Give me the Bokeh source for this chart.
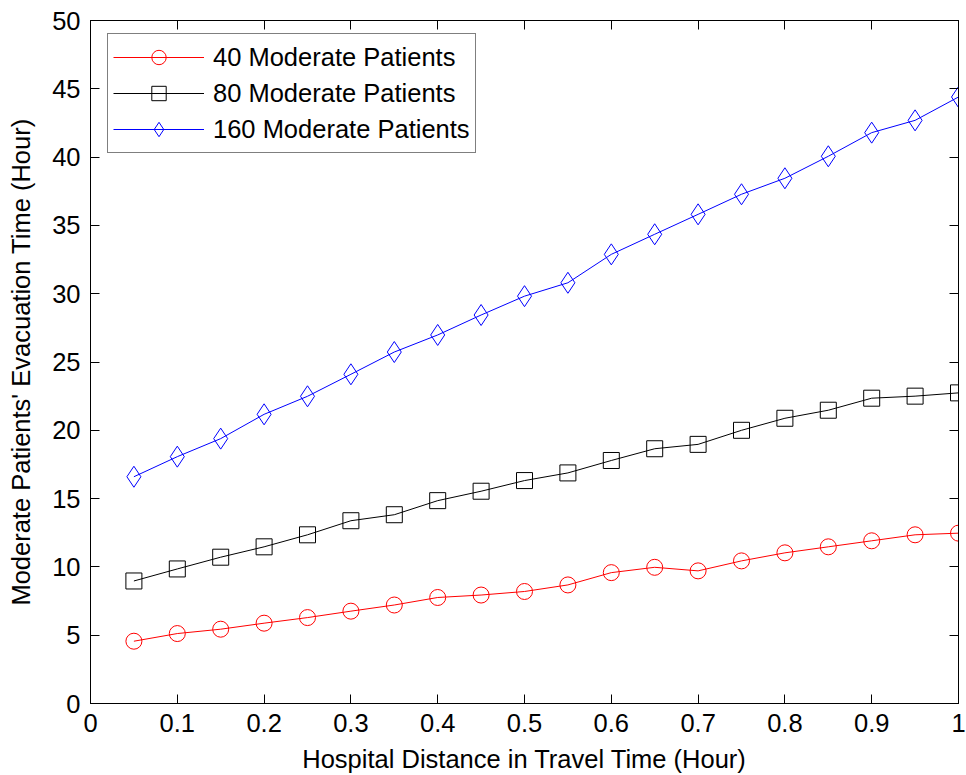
from bokeh.plotting import figure
from bokeh.models import (Range1d, LinearAxis, FixedTicker, NumeralTickFormatter,
                          CustomJSTickFormatter, Legend, LegendItem)
from bokeh.embed import file_html
from bokeh.resources import INLINE

# ---- data ----
distance = [0.05, 0.10, 0.15, 0.20, 0.25, 0.30, 0.35, 0.40, 0.45, 0.50,
            0.55, 0.60, 0.65, 0.70, 0.75, 0.80, 0.85, 0.90, 0.95, 1.00]
patients_40 = [4.56, 5.12, 5.44, 5.88, 6.29, 6.76, 7.21, 7.76, 7.94, 8.20,
               8.68, 9.58, 9.97, 9.71, 10.44, 11.03, 11.47, 11.91, 12.35, 12.47]
patients_80 = [8.97, 9.85, 10.71, 11.47, 12.35, 13.38, 13.82, 14.85, 15.54, 16.32,
               16.88, 17.79, 18.65, 18.97, 20.00, 20.88, 21.47, 22.35, 22.50, 22.74]
patients_160 = [16.6, 18.07, 19.39, 21.17, 22.49, 24.10, 25.73, 26.98, 28.44, 29.82,
                30.80, 32.88, 34.35, 35.81, 37.28, 38.45, 40.06, 41.79, 42.69, 44.40]
series_labels = ["40 Moderate Patients", "80 Moderate Patients", "160 Moderate Patients"]
x_ticks = [0, 0.1, 0.2, 0.3, 0.4, 0.5, 0.6, 0.7, 0.8, 0.9, 1.0]
y_ticks = [0, 5, 10, 15, 20, 25, 30, 35, 40, 45, 50]
x_title = "Hospital Distance in Travel Time (Hour)"
y_title = "Moderate Patients' Evacuation Time (Hour)"

FONT = "Liberation Sans"
FS = "25.5px"

p = figure(width=966, height=775, output_backend="svg", toolbar_location=None,
           x_range=Range1d(0, 1), y_range=Range1d(0, 50),
           min_border_left=90, min_border_right=8, min_border_top=20, min_border_bottom=72)
p.xgrid.visible = False
p.ygrid.visible = False
p.outline_line_color = "black"
p.outline_line_width = 1
p.background_fill_color = "white"
p.border_fill_color = "white"

xt = FixedTicker(ticks=x_ticks)
yt = FixedTicker(ticks=y_ticks)

def style_axis(ax):
    ax.major_tick_in = 9
    ax.major_tick_out = 0
    ax.minor_tick_line_color = None
    ax.axis_line_color = "black"
    ax.major_tick_line_color = "black"
    ax.major_label_text_font = FONT
    ax.major_label_text_font_size = FS
    ax.major_label_text_color = "black"
    ax.axis_label_text_font = FONT
    ax.axis_label_text_font_size = FS
    ax.axis_label_text_font_style = "normal"
    ax.axis_label_text_color = "black"

xa = p.xaxis[0]
xa.ticker = xt
xa.formatter = NumeralTickFormatter(format="0.[0]")
xa.axis_label = x_title
xa.major_label_standoff = 10
xa.axis_label_standoff = 10
style_axis(xa)

ya = p.yaxis[0]
ya.ticker = yt
ya.axis_label = y_title
ya.major_label_standoff = 10
ya.axis_label_standoff = 14
style_axis(ya)

blank = CustomJSTickFormatter(code="return ''")
top = LinearAxis(ticker=xt, formatter=blank, major_label_standoff=0)
style_axis(top)
right = LinearAxis(ticker=yt, formatter=blank, major_label_standoff=0)
style_axis(right)
p.add_layout(top, "above")
p.add_layout(right, "right")

items = []
specs = [(patients_40, "red", "circle", 16),
         (patients_80, "black", "square", 16),
         (patients_160, "blue", "diamond", 21)]
for (vals, col, mk, sz), lab in zip(specs, series_labels):
    ln = p.line(distance, vals, line_color=col, line_width=1)
    sc = p.scatter(distance, vals, marker=mk, size=sz, line_color=col,
                   fill_color=None, line_width=1)
    items.append(LegendItem(label=lab, renderers=[ln, sc]))

legend = Legend(items=items, location=(17, 550),
                glyph_width=91, glyph_height=36, label_standoff=9,
                padding=5, spacing=0, margin=0,
                label_text_font=FONT, label_text_font_size=FS,
                label_text_color="black",
                border_line_color="black", border_line_width=1,
                background_fill_color="white", background_fill_alpha=1)
p.add_layout(legend, "center")

open("out.html", "w").write(file_html(p, INLINE))
